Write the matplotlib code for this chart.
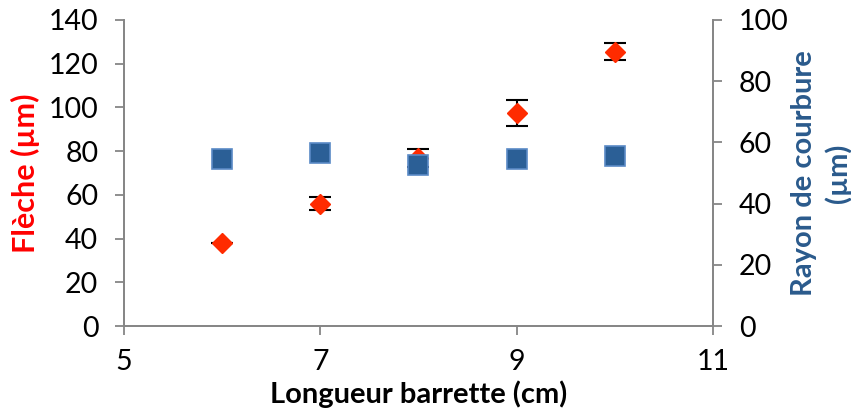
import matplotlib
matplotlib.use("Agg")
import matplotlib.pyplot as plt

# données
longueur = [6, 7, 8, 9, 10]
fleche = [38, 56, 77, 97.6, 125.5]
fleche_err = [0, 2.8, 4.2, 6, 4]
rayon = [54.7, 56.6, 52.7, 54.7, 55.7]

x_ticks = [5, 7, 9, 11]
y1_ticks = [0, 20, 40, 60, 80, 100, 120, 140]
y2_ticks = [0, 20, 40, 60, 80, 100]

plt.rcParams["font.family"] = ["Lato", "DejaVu Sans"]
GRIS = "#868686"

fig = plt.figure(figsize=(8.51, 4.16), dpi=100)
ax1 = fig.add_axes([0.1457, 0.2163, 0.6921, 0.7357])
ax2 = ax1.twinx()

ax1.errorbar(longueur, fleche, yerr=fleche_err, fmt="D", color="#FF2B00",
             markersize=10.5, ecolor="black", elinewidth=1.5, capsize=8,
             capthick=1.5, zorder=3)
ax2.plot(longueur, rayon, "s", markersize=14.5, markerfacecolor="#2B5F96",
         markeredgecolor="#5A8AC6", markeredgewidth=1.2, zorder=3)

ax1.set_xlim(5, 11)
ax1.set_ylim(0, 140)
ax2.set_ylim(0, 100)
ax1.set_xticks(x_ticks)
ax1.set_yticks(y1_ticks)
ax2.set_yticks(y2_ticks)

for ax in (ax1, ax2):
    ax.spines["top"].set_visible(False)
    for s in ("left", "right", "bottom"):
        ax.spines[s].set_color(GRIS)
        ax.spines[s].set_linewidth(1.3)
    ax.tick_params(axis="both", which="major", direction="out", length=6.5,
                   width=1.3, color=GRIS, labelsize=20.5, pad=12)
ax1.tick_params(axis="x", pad=10)

ax1.set_xlabel("Longueur barrette (cm)", fontsize=21, fontweight="bold",
               labelpad=4)
ax1.set_ylabel("Flèche (µm)", fontsize=22, fontweight="bold",
               color="#FF0000", labelpad=6)
ax2.set_ylabel("Rayon de courbure\n(µm)", fontsize=21, fontweight="bold",
               color="#2A5A8C", labelpad=2, linespacing=1.3)

fig.savefig("out.png", dpi=100)
